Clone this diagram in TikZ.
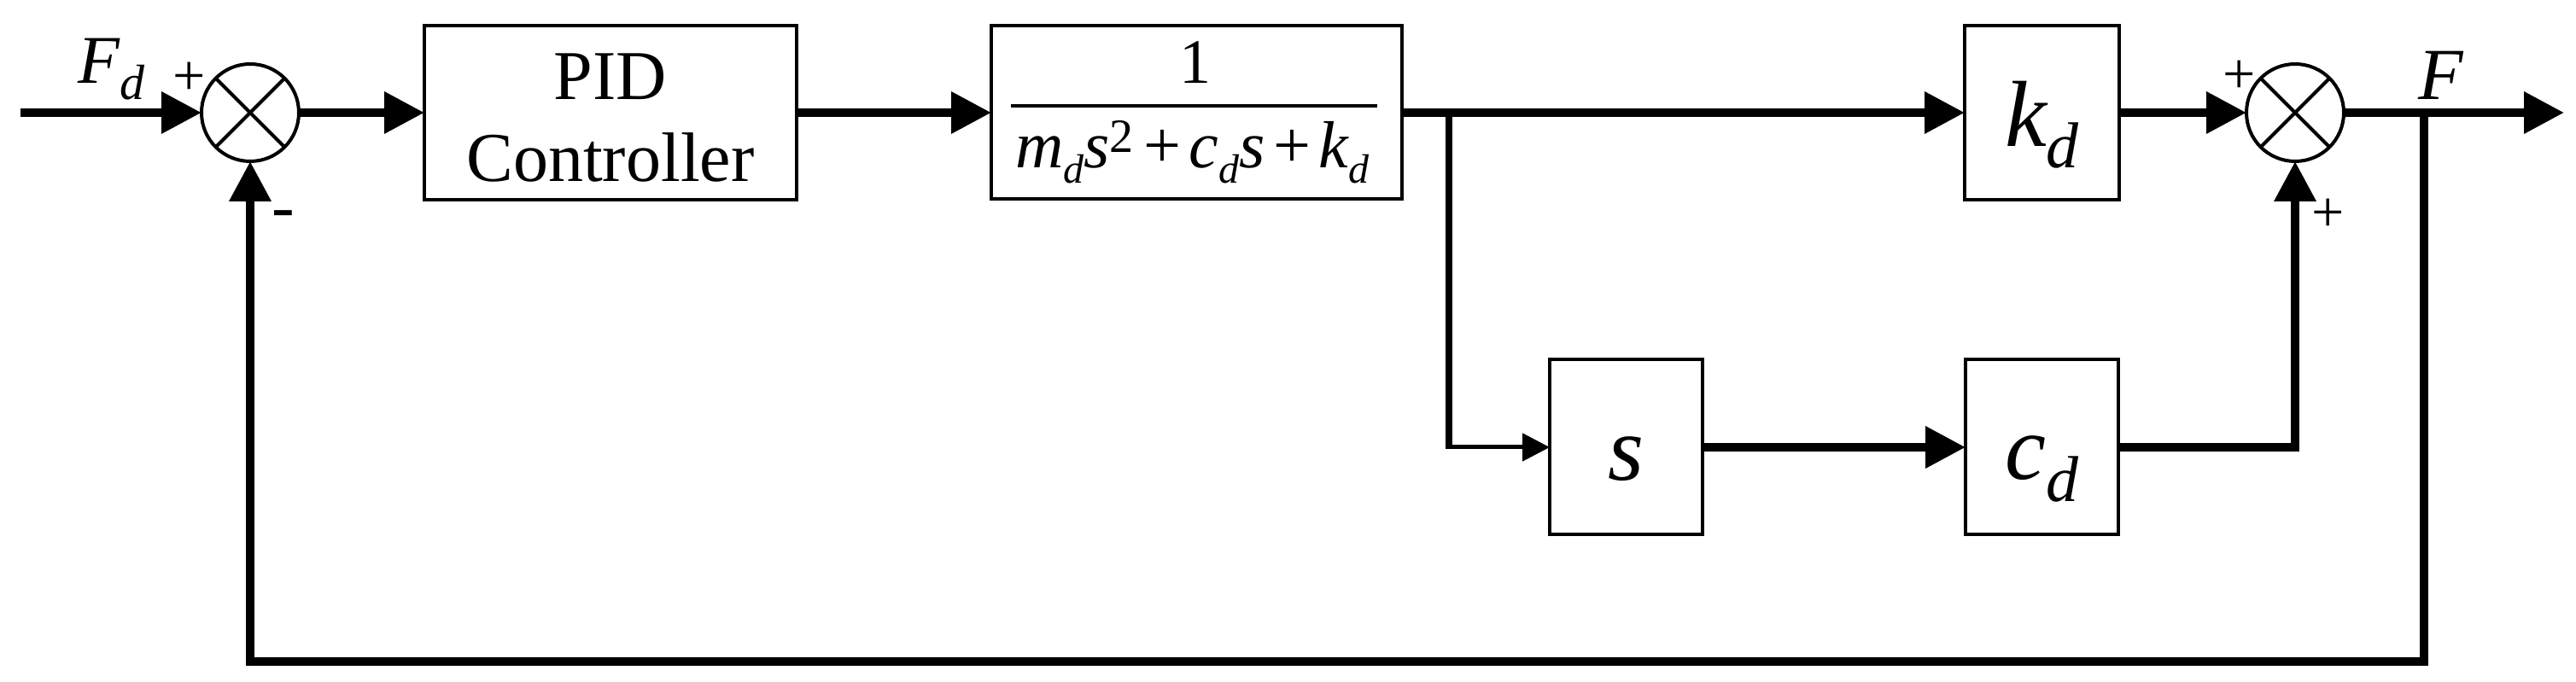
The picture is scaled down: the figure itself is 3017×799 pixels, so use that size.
\documentclass[tikz,border=0pt]{standalone}
\usepackage{fontspec}
\setmainfont{Liberation Serif}
\usetikzlibrary{arrows.meta}
\newcommand\fsz[1]{\fontsize{#1}{#1}\selectfont}
\newcommand\lsub[3]{\raisebox{-#1}{\fsz{#2}\itshape #3}}
\begin{document}
\begin{tikzpicture}[x=0.25pt,y=-0.25pt,
  blk/.style={draw,line width=1pt,inner sep=0pt,outer sep=0pt},
  sumj/.style={draw,circle,line width=1pt,minimum size=28.5pt,inner sep=0pt,outer sep=0pt,
    path picture={\draw[line width=1pt] (path picture bounding box.north west) -- (path picture bounding box.south east)
      (path picture bounding box.north east) -- (path picture bounding box.south west);}},
  wire/.style={line width=2.5pt},
  arr/.style={-{Triangle[length=11.75pt,width=11.75pt]}},
  thinarr/.style={line width=1.25pt,-{Triangle[length=8pt,width=8pt]}},
  lbl/.style={inner sep=0pt,outer sep=0pt}]
\useasboundingbox (0,0) rectangle (3017,799);
\fill[white] (0,0) rectangle (3017,799);

% nodes
\coordinate (in) at (24,132);
\node[sumj] (s1) at (293,132) {};
\node[blk,minimum width=109pt,minimum height=51pt,align=center,
      font=\fontsize{20.5pt}{24pt}\selectfont,text height=44pt,text depth=3.5pt] (pid) at (715,132) {PID\\Controller};
\node[blk,minimum width=120.25pt,minimum height=50.75pt] (tf) at (1401.5,132) {};
\node[blk,minimum width=45.25pt,minimum height=51pt,text height=24pt,text depth=4pt] (kd) at (2391.5,132)
  {\fsz{27.5pt}\itshape k\lsub{6.25pt}{19pt}{d}};
\node[sumj] (s2) at (2688,132) {};
\coordinate (out) at (3003,132);
\coordinate (br) at (1697,132);
\coordinate (brl) at (1697,524);
\node[blk,minimum width=44.75pt,minimum height=51.25pt,text height=23.5pt,text depth=4pt] (sb) at (1904.5,524)
  {\fsz{27pt}\itshape s};
\node[blk,minimum width=44.75pt,minimum height=51.25pt,text height=23pt,text depth=4pt] (cd) at (2391.5,524)
  {\fsz{27pt}\itshape c\lsub{6.5pt}{19pt}{d}};
\coordinate (jF) at (2839,132);
\coordinate (fbR) at (2839,775);

% fraction inside tf
\node[lbl,anchor=base,font=\fsz{18.5pt}] (num) at (1400,98) {1};
\draw[line width=1pt] (1184,124) -- (1613,124);
\node[lbl,anchor=base,font=\fsz{19.5pt}] (den) at (1396,197)
  {\itshape m\lsub{4.5pt}{12pt}{d}s\raisebox{4.5pt}{\fsz{14pt}\upshape 2}\hspace{0.15em}\upshape+\hspace{0.12em}\itshape c\lsub{4.5pt}{12pt}{d}s\hspace{0.12em}\upshape+\hspace{0.12em}\itshape k\lsub{4.5pt}{12pt}{d}};

% labels
\node[lbl,anchor=base west,font=\fsz{20pt}\itshape] (lFd) at (92,98) {F\lsub{4.75pt}{14.5pt}{d}};
\node[lbl,font=\fsz{17pt}] (p1) at (222,92) {+};
\node[lbl,font=\fsz{20pt}] (m1) at (332,258) {-};
\node[lbl,font=\fsz{17pt}] (p2) at (2623,90) {+};
\node[lbl,font=\fsz{17pt}] (p3) at (2727,252) {+};
\node[lbl,anchor=base west,font=\fsz{21.5pt}\itshape] (lF) at (2832,117) {F};

% connectors
\draw[wire,arr] (in) -- (s1.west);
\draw[wire,arr] (s1.east) -- (pid.west);
\draw[wire,arr] (pid.east) -- (tf.west);
\draw[wire,arr] (tf.east) -- (kd.west);
\draw[wire,arr] (kd.east) -- (s2.west);
\draw[wire,arr] (s2.east) -- (out);
\draw[line width=2.1pt] (br) -- ([yshift=-0.6pt]brl);
\draw[thinarr] ([xshift=-1.05pt]brl) -- (sb.west);
\draw[wire,arr] (sb.east) -- (cd.west);
\draw[wire,arr] (cd.east) -| (s2.south);
\draw[wire,arr] (jF) -- (fbR) -| (s1.south);
\end{tikzpicture}
\end{document}
